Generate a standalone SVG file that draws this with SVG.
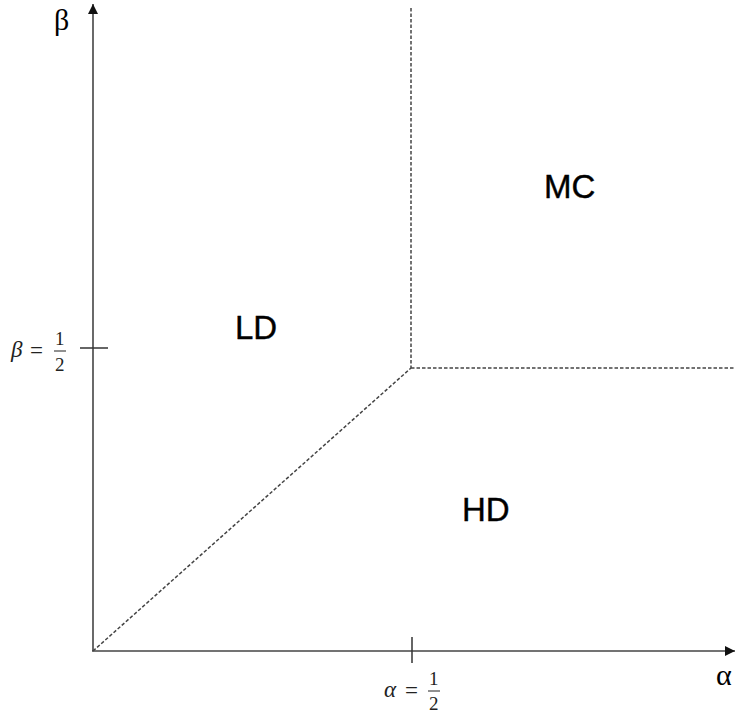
<svg xmlns="http://www.w3.org/2000/svg" width="735" height="713" viewBox="0 0 735 713">
<style>
.axis{stroke:#444;stroke-width:1.6;fill:none}
.tick{stroke:#333;stroke-width:1.5}
.dash{stroke:#444;stroke-width:1.5;stroke-dasharray:3.5,2;fill:none}
.region{font-family:"Liberation Sans",Arial,sans-serif;font-size:33px;fill:#000;stroke:#000;stroke-width:0.4}
.greek{font-family:"Liberation Serif","DejaVu Serif",serif;font-size:30px;fill:#000}
.math{font-family:"Liberation Serif","DejaVu Serif",serif;font-size:23px;fill:#222}
.num{font-family:"Liberation Serif","DejaVu Serif",serif;font-size:19px;fill:#222}
</style>
<defs>
<marker id="arr" viewBox="0 0 10 10" refX="10" refY="5" markerWidth="10" markerHeight="10" markerUnits="userSpaceOnUse" orient="auto">
<path d="M0,0 L10,5 L0,10 Z" fill="#111"/>
</marker>
</defs>
<g id="connectors">
<line class="axis" x1="93" y1="651" x2="93" y2="4" marker-end="url(#arr)"/>
<line class="axis" x1="92" y1="651" x2="735" y2="651" marker-end="url(#arr)"/>
<line class="tick" x1="80" y1="348" x2="108" y2="348"/>
<line class="tick" x1="412" y1="637" x2="412" y2="663"/>
<line class="dash" x1="411" y1="8" x2="411" y2="368"/>
<line class="dash" x1="411" y1="368" x2="735" y2="368"/>
<line class="dash" x1="93" y1="651" x2="411" y2="368"/>
</g>
<g id="axis-labels">
<text class="greek" x="54" y="30">β</text>
<text class="greek" x="716" y="685">α</text>
</g>
<g id="beta-half">
<text class="math" x="11" y="357" font-style="italic">β</text>
<text class="math" x="30" y="358">=</text>
<text class="num" x="55" y="345">1</text>
<line x1="54" y1="351" x2="66" y2="351" stroke="#222" stroke-width="1"/>
<text class="num" x="55" y="371">2</text>
</g>
<g id="alpha-half">
<text class="math" x="384" y="697" font-style="italic">α</text>
<text class="math" x="405" y="698">=</text>
<text class="num" x="429" y="685">1</text>
<line x1="428" y1="691" x2="440" y2="691" stroke="#222" stroke-width="1"/>
<text class="num" x="429" y="710">2</text>
</g>
<g id="LD"><text class="region" x="235" y="339">LD</text></g>
<g id="MC"><text class="region" x="544" y="198">MC</text></g>
<g id="HD"><text class="region" x="462" y="521">HD</text></g>
</svg>
